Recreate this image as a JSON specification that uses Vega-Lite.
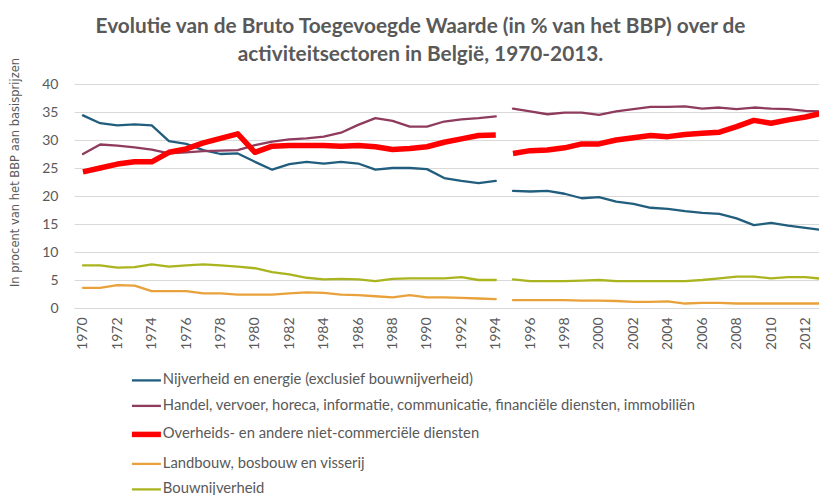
{
  "$schema": "https://vega.github.io/schema/vega-lite/v6.json",
  "autosize": "none",
  "width": 745,
  "height": 224,
  "padding": {"left": 74, "top": 84, "right": 0, "bottom": 187},
  "background": "white",
  "title": {
    "text": ["Evolutie van de Bruto Toegevoegde Waarde (in % van het BBP) over de", "activiteitsectoren in België, 1970-2013."],
    "font": "Lato",
    "fontSize": 20.8,
    "fontWeight": "bold",
    "color": "#595959",
    "lineHeight": 28,
    "anchor": "middle",
    "dx": -26,
    "offset": -8
  },
  "data": {
    "values": [
      {"jaar": 1970, "periode": "1970-1994", "Nijverheid en energie (exclusief bouwnijverheid)": 34.4, "Handel, vervoer, horeca, informatie, communicatie, financiële diensten, immobiliën": 27.5, "Overheids- en andere niet-commerciële diensten": 24.3, "Landbouw, bosbouw en visserij": 3.6, "Bouwnijverheid": 7.6},
      {"jaar": 1971, "periode": "1970-1994", "Nijverheid en energie (exclusief bouwnijverheid)": 33.0, "Handel, vervoer, horeca, informatie, communicatie, financiële diensten, immobiliën": 29.2, "Overheids- en andere niet-commerciële diensten": 25.0, "Landbouw, bosbouw en visserij": 3.6, "Bouwnijverheid": 7.6},
      {"jaar": 1972, "periode": "1970-1994", "Nijverheid en energie (exclusief bouwnijverheid)": 32.6, "Handel, vervoer, horeca, informatie, communicatie, financiële diensten, immobiliën": 29.0, "Overheids- en andere niet-commerciële diensten": 25.7, "Landbouw, bosbouw en visserij": 4.1, "Bouwnijverheid": 7.2},
      {"jaar": 1973, "periode": "1970-1994", "Nijverheid en energie (exclusief bouwnijverheid)": 32.8, "Handel, vervoer, horeca, informatie, communicatie, financiële diensten, immobiliën": 28.7, "Overheids- en andere niet-commerciële diensten": 26.1, "Landbouw, bosbouw en visserij": 4.0, "Bouwnijverheid": 7.3},
      {"jaar": 1974, "periode": "1970-1994", "Nijverheid en energie (exclusief bouwnijverheid)": 32.6, "Handel, vervoer, horeca, informatie, communicatie, financiële diensten, immobiliën": 28.3, "Overheids- en andere niet-commerciële diensten": 26.1, "Landbouw, bosbouw en visserij": 3.0, "Bouwnijverheid": 7.8},
      {"jaar": 1975, "periode": "1970-1994", "Nijverheid en energie (exclusief bouwnijverheid)": 29.8, "Handel, vervoer, horeca, informatie, communicatie, financiële diensten, immobiliën": 27.6, "Overheids- en andere niet-commerciële diensten": 27.8, "Landbouw, bosbouw en visserij": 3.0, "Bouwnijverheid": 7.4},
      {"jaar": 1976, "periode": "1970-1994", "Nijverheid en energie (exclusief bouwnijverheid)": 29.3, "Handel, vervoer, horeca, informatie, communicatie, financiële diensten, immobiliën": 27.8, "Overheids- en andere niet-commerciële diensten": 28.4, "Landbouw, bosbouw en visserij": 3.0, "Bouwnijverheid": 7.6},
      {"jaar": 1977, "periode": "1970-1994", "Nijverheid en energie (exclusief bouwnijverheid)": 28.2, "Handel, vervoer, horeca, informatie, communicatie, financiële diensten, immobiliën": 28.0, "Overheids- en andere niet-commerciële diensten": 29.5, "Landbouw, bosbouw en visserij": 2.6, "Bouwnijverheid": 7.8},
      {"jaar": 1978, "periode": "1970-1994", "Nijverheid en energie (exclusief bouwnijverheid)": 27.5, "Handel, vervoer, horeca, informatie, communicatie, financiële diensten, immobiliën": 28.1, "Overheids- en andere niet-commerciële diensten": 30.3, "Landbouw, bosbouw en visserij": 2.6, "Bouwnijverheid": 7.6},
      {"jaar": 1979, "periode": "1970-1994", "Nijverheid en energie (exclusief bouwnijverheid)": 27.6, "Handel, vervoer, horeca, informatie, communicatie, financiële diensten, immobiliën": 28.2, "Overheids- en andere niet-commerciële diensten": 31.1, "Landbouw, bosbouw en visserij": 2.4, "Bouwnijverheid": 7.4},
      {"jaar": 1980, "periode": "1970-1994", "Nijverheid en energie (exclusief bouwnijverheid)": 26.1, "Handel, vervoer, horeca, informatie, communicatie, financiële diensten, immobiliën": 29.1, "Overheids- en andere niet-commerciële diensten": 27.8, "Landbouw, bosbouw en visserij": 2.4, "Bouwnijverheid": 7.1},
      {"jaar": 1981, "periode": "1970-1994", "Nijverheid en energie (exclusief bouwnijverheid)": 24.7, "Handel, vervoer, horeca, informatie, communicatie, financiële diensten, immobiliën": 29.7, "Overheids- en andere niet-commerciële diensten": 28.9, "Landbouw, bosbouw en visserij": 2.4, "Bouwnijverheid": 6.4},
      {"jaar": 1982, "periode": "1970-1994", "Nijverheid en energie (exclusief bouwnijverheid)": 25.7, "Handel, vervoer, horeca, informatie, communicatie, financiële diensten, immobiliën": 30.1, "Overheids- en andere niet-commerciële diensten": 29.0, "Landbouw, bosbouw en visserij": 2.6, "Bouwnijverheid": 6.0},
      {"jaar": 1983, "periode": "1970-1994", "Nijverheid en energie (exclusief bouwnijverheid)": 26.1, "Handel, vervoer, horeca, informatie, communicatie, financiële diensten, immobiliën": 30.3, "Overheids- en andere niet-commerciële diensten": 29.0, "Landbouw, bosbouw en visserij": 2.8, "Bouwnijverheid": 5.4},
      {"jaar": 1984, "periode": "1970-1994", "Nijverheid en energie (exclusief bouwnijverheid)": 25.8, "Handel, vervoer, horeca, informatie, communicatie, financiële diensten, immobiliën": 30.6, "Overheids- en andere niet-commerciële diensten": 29.0, "Landbouw, bosbouw en visserij": 2.7, "Bouwnijverheid": 5.1},
      {"jaar": 1985, "periode": "1970-1994", "Nijverheid en energie (exclusief bouwnijverheid)": 26.1, "Handel, vervoer, horeca, informatie, communicatie, financiële diensten, immobiliën": 31.3, "Overheids- en andere niet-commerciële diensten": 28.9, "Landbouw, bosbouw en visserij": 2.4, "Bouwnijverheid": 5.2},
      {"jaar": 1986, "periode": "1970-1994", "Nijverheid en energie (exclusief bouwnijverheid)": 25.8, "Handel, vervoer, horeca, informatie, communicatie, financiële diensten, immobiliën": 32.7, "Overheids- en andere niet-commerciële diensten": 29.0, "Landbouw, bosbouw en visserij": 2.3, "Bouwnijverheid": 5.1},
      {"jaar": 1987, "periode": "1970-1994", "Nijverheid en energie (exclusief bouwnijverheid)": 24.7, "Handel, vervoer, horeca, informatie, communicatie, financiële diensten, immobiliën": 33.9, "Overheids- en andere niet-commerciële diensten": 28.8, "Landbouw, bosbouw en visserij": 2.1, "Bouwnijverheid": 4.8},
      {"jaar": 1988, "periode": "1970-1994", "Nijverheid en energie (exclusief bouwnijverheid)": 25.0, "Handel, vervoer, horeca, informatie, communicatie, financiële diensten, immobiliën": 33.4, "Overheids- en andere niet-commerciële diensten": 28.3, "Landbouw, bosbouw en visserij": 1.9, "Bouwnijverheid": 5.2},
      {"jaar": 1989, "periode": "1970-1994", "Nijverheid en energie (exclusief bouwnijverheid)": 25.0, "Handel, vervoer, horeca, informatie, communicatie, financiële diensten, immobiliën": 32.4, "Overheids- en andere niet-commerciële diensten": 28.5, "Landbouw, bosbouw en visserij": 2.3, "Bouwnijverheid": 5.3},
      {"jaar": 1990, "periode": "1970-1994", "Nijverheid en energie (exclusief bouwnijverheid)": 24.8, "Handel, vervoer, horeca, informatie, communicatie, financiële diensten, immobiliën": 32.4, "Overheids- en andere niet-commerciële diensten": 28.8, "Landbouw, bosbouw en visserij": 1.9, "Bouwnijverheid": 5.3},
      {"jaar": 1991, "periode": "1970-1994", "Nijverheid en energie (exclusief bouwnijverheid)": 23.2, "Handel, vervoer, horeca, informatie, communicatie, financiële diensten, immobiliën": 33.3, "Overheids- en andere niet-commerciële diensten": 29.6, "Landbouw, bosbouw en visserij": 1.9, "Bouwnijverheid": 5.3},
      {"jaar": 1992, "periode": "1970-1994", "Nijverheid en energie (exclusief bouwnijverheid)": 22.7, "Handel, vervoer, horeca, informatie, communicatie, financiële diensten, immobiliën": 33.7, "Overheids- en andere niet-commerciële diensten": 30.2, "Landbouw, bosbouw en visserij": 1.8, "Bouwnijverheid": 5.5},
      {"jaar": 1993, "periode": "1970-1994", "Nijverheid en energie (exclusief bouwnijverheid)": 22.3, "Handel, vervoer, horeca, informatie, communicatie, financiële diensten, immobiliën": 33.9, "Overheids- en andere niet-commerciële diensten": 30.8, "Landbouw, bosbouw en visserij": 1.7, "Bouwnijverheid": 5.0},
      {"jaar": 1994, "periode": "1970-1994", "Nijverheid en energie (exclusief bouwnijverheid)": 22.7, "Handel, vervoer, horeca, informatie, communicatie, financiële diensten, immobiliën": 34.2, "Overheids- en andere niet-commerciële diensten": 30.9, "Landbouw, bosbouw en visserij": 1.6, "Bouwnijverheid": 5.0},
      {"jaar": 1995, "periode": "1995-2013", "Nijverheid en energie (exclusief bouwnijverheid)": 20.9, "Handel, vervoer, horeca, informatie, communicatie, financiële diensten, immobiliën": 35.6, "Overheids- en andere niet-commerciële diensten": 27.6, "Landbouw, bosbouw en visserij": 1.4, "Bouwnijverheid": 5.1},
      {"jaar": 1996, "periode": "1995-2013", "Nijverheid en energie (exclusief bouwnijverheid)": 20.8, "Handel, vervoer, horeca, informatie, communicatie, financiële diensten, immobiliën": 35.1, "Overheids- en andere niet-commerciële diensten": 28.1, "Landbouw, bosbouw en visserij": 1.4, "Bouwnijverheid": 4.8},
      {"jaar": 1997, "periode": "1995-2013", "Nijverheid en energie (exclusief bouwnijverheid)": 20.9, "Handel, vervoer, horeca, informatie, communicatie, financiële diensten, immobiliën": 34.6, "Overheids- en andere niet-commerciële diensten": 28.2, "Landbouw, bosbouw en visserij": 1.4, "Bouwnijverheid": 4.8},
      {"jaar": 1998, "periode": "1995-2013", "Nijverheid en energie (exclusief bouwnijverheid)": 20.4, "Handel, vervoer, horeca, informatie, communicatie, financiële diensten, immobiliën": 34.9, "Overheids- en andere niet-commerciële diensten": 28.6, "Landbouw, bosbouw en visserij": 1.4, "Bouwnijverheid": 4.8},
      {"jaar": 1999, "periode": "1995-2013", "Nijverheid en energie (exclusief bouwnijverheid)": 19.6, "Handel, vervoer, horeca, informatie, communicatie, financiële diensten, immobiliën": 34.9, "Overheids- en andere niet-commerciële diensten": 29.3, "Landbouw, bosbouw en visserij": 1.3, "Bouwnijverheid": 4.9},
      {"jaar": 2000, "periode": "1995-2013", "Nijverheid en energie (exclusief bouwnijverheid)": 19.8, "Handel, vervoer, horeca, informatie, communicatie, financiële diensten, immobiliën": 34.5, "Overheids- en andere niet-commerciële diensten": 29.3, "Landbouw, bosbouw en visserij": 1.3, "Bouwnijverheid": 5.0},
      {"jaar": 2001, "periode": "1995-2013", "Nijverheid en energie (exclusief bouwnijverheid)": 19.0, "Handel, vervoer, horeca, informatie, communicatie, financiële diensten, immobiliën": 35.1, "Overheids- en andere niet-commerciële diensten": 30.0, "Landbouw, bosbouw en visserij": 1.25, "Bouwnijverheid": 4.8},
      {"jaar": 2002, "periode": "1995-2013", "Nijverheid en energie (exclusief bouwnijverheid)": 18.6, "Handel, vervoer, horeca, informatie, communicatie, financiële diensten, immobiliën": 35.5, "Overheids- en andere niet-commerciële diensten": 30.4, "Landbouw, bosbouw en visserij": 1.1, "Bouwnijverheid": 4.8},
      {"jaar": 2003, "periode": "1995-2013", "Nijverheid en energie (exclusief bouwnijverheid)": 17.9, "Handel, vervoer, horeca, informatie, communicatie, financiële diensten, immobiliën": 35.9, "Overheids- en andere niet-commerciële diensten": 30.8, "Landbouw, bosbouw en visserij": 1.1, "Bouwnijverheid": 4.8},
      {"jaar": 2004, "periode": "1995-2013", "Nijverheid en energie (exclusief bouwnijverheid)": 17.7, "Handel, vervoer, horeca, informatie, communicatie, financiële diensten, immobiliën": 35.9, "Overheids- en andere niet-commerciële diensten": 30.6, "Landbouw, bosbouw en visserij": 1.2, "Bouwnijverheid": 4.8},
      {"jaar": 2005, "periode": "1995-2013", "Nijverheid en energie (exclusief bouwnijverheid)": 17.3, "Handel, vervoer, horeca, informatie, communicatie, financiële diensten, immobiliën": 36.0, "Overheids- en andere niet-commerciële diensten": 31.0, "Landbouw, bosbouw en visserij": 0.8, "Bouwnijverheid": 4.8},
      {"jaar": 2006, "periode": "1995-2013", "Nijverheid en energie (exclusief bouwnijverheid)": 17.0, "Handel, vervoer, horeca, informatie, communicatie, financiële diensten, immobiliën": 35.6, "Overheids- en andere niet-commerciële diensten": 31.2, "Landbouw, bosbouw en visserij": 0.9, "Bouwnijverheid": 5.0},
      {"jaar": 2007, "periode": "1995-2013", "Nijverheid en energie (exclusief bouwnijverheid)": 16.8, "Handel, vervoer, horeca, informatie, communicatie, financiële diensten, immobiliën": 35.8, "Overheids- en andere niet-commerciële diensten": 31.4, "Landbouw, bosbouw en visserij": 0.9, "Bouwnijverheid": 5.3},
      {"jaar": 2008, "periode": "1995-2013", "Nijverheid en energie (exclusief bouwnijverheid)": 16.0, "Handel, vervoer, horeca, informatie, communicatie, financiële diensten, immobiliën": 35.5, "Overheids- en andere niet-commerciële diensten": 32.4, "Landbouw, bosbouw en visserij": 0.8, "Bouwnijverheid": 5.6},
      {"jaar": 2009, "periode": "1995-2013", "Nijverheid en energie (exclusief bouwnijverheid)": 14.8, "Handel, vervoer, horeca, informatie, communicatie, financiële diensten, immobiliën": 35.8, "Overheids- en andere niet-commerciële diensten": 33.5, "Landbouw, bosbouw en visserij": 0.8, "Bouwnijverheid": 5.6},
      {"jaar": 2010, "periode": "1995-2013", "Nijverheid en energie (exclusief bouwnijverheid)": 15.2, "Handel, vervoer, horeca, informatie, communicatie, financiële diensten, immobiliën": 35.6, "Overheids- en andere niet-commerciële diensten": 33.0, "Landbouw, bosbouw en visserij": 0.8, "Bouwnijverheid": 5.3},
      {"jaar": 2011, "periode": "1995-2013", "Nijverheid en energie (exclusief bouwnijverheid)": 14.7, "Handel, vervoer, horeca, informatie, communicatie, financiële diensten, immobiliën": 35.5, "Overheids- en andere niet-commerciële diensten": 33.6, "Landbouw, bosbouw en visserij": 0.8, "Bouwnijverheid": 5.5},
      {"jaar": 2012, "periode": "1995-2013", "Nijverheid en energie (exclusief bouwnijverheid)": 14.3, "Handel, vervoer, horeca, informatie, communicatie, financiële diensten, immobiliën": 35.2, "Overheids- en andere niet-commerciële diensten": 34.1, "Landbouw, bosbouw en visserij": 0.8, "Bouwnijverheid": 5.5},
      {"jaar": 2013, "periode": "1995-2013", "Nijverheid en energie (exclusief bouwnijverheid)": 13.9, "Handel, vervoer, horeca, informatie, communicatie, financiële diensten, immobiliën": 35.1, "Overheids- en andere niet-commerciële diensten": 34.8, "Landbouw, bosbouw en visserij": 0.8, "Bouwnijverheid": 5.2}
    ]
  },
  "transform": [
    {"fold": ["Nijverheid en energie (exclusief bouwnijverheid)", "Handel, vervoer, horeca, informatie, communicatie, financiële diensten, immobiliën", "Overheids- en andere niet-commerciële diensten", "Landbouw, bosbouw en visserij", "Bouwnijverheid"], "as": ["sector", "waarde"]}
  ],
  "encoding": {
    "x": {
      "field": "jaar", "type": "quantitative",
      "scale": {"domain": [1969.48, 2012.79], "nice": false, "zero": false},
      "axis": {
        "title": null,
        "values": [1970, 1972, 1974, 1976, 1978, 1980, 1982, 1984, 1986, 1988, 1990, 1992, 1994, 1996, 1998, 2000, 2002, 2004, 2006, 2008, 2010, 2012],
        "format": "d",
        "labelAngle": -90,
        "labelFont": "Lato",
        "labelFontSize": 14,
        "labelColor": "#595959",
        "labelPadding": 9,
        "labelFlush": false,
        "labelOverlap": false,
        "grid": false,
        "ticks": false,
        "domain": true,
        "domainColor": "#D9D9D9"
      }
    },
    "y": {
      "field": "waarde", "type": "quantitative",
      "scale": {"domain": [0, 40], "nice": false},
      "axis": {
        "title": "In procent van het BBP aan basisprijzen",
        "titleFont": "DejaVu Sans",
        "titleFontSize": 11.5,
        "titleFontWeight": "normal",
        "titleColor": "#595959",
        "titlePadding": 21,
        "titleY": 88,
        "values": [0, 5, 10, 15, 20, 25, 30, 35, 40],
        "labelFont": "Lato",
        "labelFontSize": 14,
        "labelColor": "#595959",
        "labelPadding": 16,
        "ticks": false,
        "domain": false,
        "grid": true,
        "gridColor": "#D9D9D9",
        "gridWidth": 1
      }
    },
    "color": {
      "field": "sector", "type": "nominal",
      "scale": {
        "domain": ["Nijverheid en energie (exclusief bouwnijverheid)", "Handel, vervoer, horeca, informatie, communicatie, financiële diensten, immobiliën", "Overheids- en andere niet-commerciële diensten", "Landbouw, bosbouw en visserij", "Bouwnijverheid"],
        "range": ["#215E7E", "#8E3B5E", "#FF0000", "#E9A23B", "#AAB41E"]
      },
      "legend": {
        "title": null,
        "orient": "none",
        "legendX": 65,
        "legendY": 289,
        "direction": "vertical",
        "symbolType": "stroke",
        "symbolSize": 841,
        "labelFont": "Lato",
        "labelFontSize": 14.8,
        "labelColor": "#595959",
        "labelLimit": 700,
        "labelOffset": 9,
        "rowPadding": 9.5,
        "encode": {
          "symbols": {
            "update": {
              "size": {"value": 841},
              "strokeWidth": {"signal": "datum.label === 'Overheids- en andere niet-commerciële diensten' ? 5.5 : 2.3"}
            }
          }
        }
      }
    },
    "detail": {"field": "periode", "type": "nominal"}
  },
  "layer": [
    {
      "transform": [{"filter": "datum.sector !== 'Overheids- en andere niet-commerciële diensten'"}],
      "mark": {"type": "line", "clip": true, "strokeJoin": "round", "strokeCap": "round", "strokeWidth": 2.3}
    },
    {
      "transform": [{"filter": "datum.sector === 'Overheids- en andere niet-commerciële diensten'"}],
      "mark": {"type": "line", "clip": true, "strokeJoin": "round", "strokeCap": "butt", "strokeWidth": 5.5}
    }
  ],
  "config": {
    "view": {"stroke": null}
  }
}
